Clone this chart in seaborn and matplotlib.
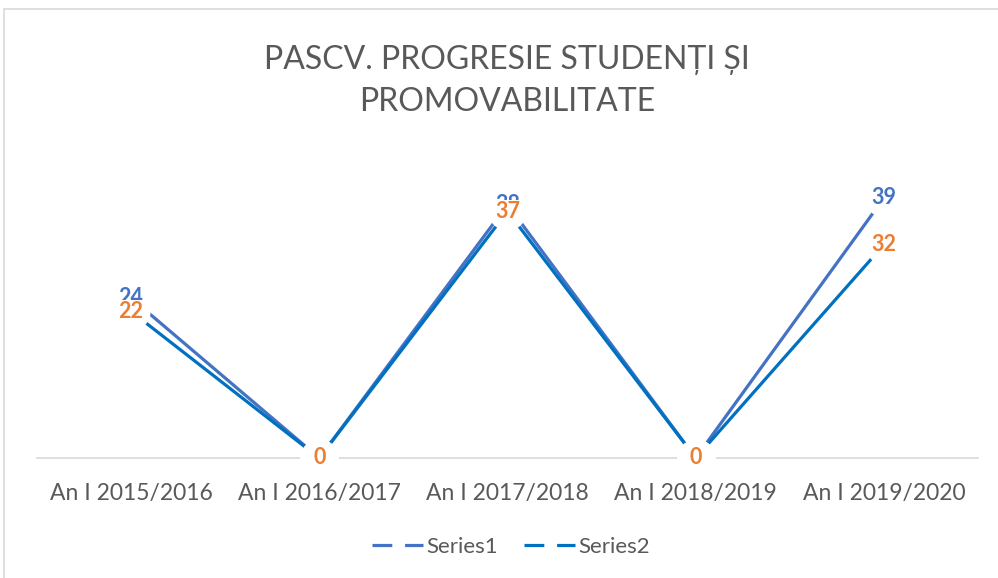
import pandas as pd
import matplotlib.pyplot as plt
import matplotlib.patches as mpatches
from matplotlib.lines import Line2D
import seaborn as sns

# --- data ---
years = ['An I 2015/2016', 'An I 2016/2017', 'An I 2017/2018', 'An I 2018/2019', 'An I 2019/2020']
series1 = [24, 0, 38, 0, 39]
series2 = [22, 0, 37, 0, 32]
series_names = ['Series1', 'Series2']

line_colors = {'Series1': '#4472C4', 'Series2': '#0070C0'}
label_colors = {'Series1': '#4472C4', 'Series2': '#ED7D31'}
grey = '#595959'

df = pd.DataFrame({
    'year': years * 2,
    'x': list(range(len(years))) * 2,
    'value': series1 + series2,
    'series': ['Series1'] * len(years) + ['Series2'] * len(years),
})

sns.set_theme(style='white')
plt.rcParams['font.family'] = ['Lato', 'DejaVu Sans']

fig = plt.figure(figsize=(9.98, 5.78), dpi=100)
ax = fig.add_axes([0.037, 1 - 458 / 578, 0.943, (458 - 158) / 578])

sns.lineplot(data=df, x='x', y='value', hue='series', palette=line_colors,
             linewidth=2.3, ax=ax, legend=False, sort=False, zorder=2)

# white discs under the labels cut the line ends short, like in the original
sns.scatterplot(data=df, x='x', y='value', color='white', s=760, linewidth=0,
                ax=ax, legend=False, zorder=3, clip_on=False)

# data labels centred on the points
for name in series_names:
    sub = df[df['series'] == name]
    for _, r in sub.iterrows():
        ax.text(r['x'], r['value'], f"{r['value']:g}", color=label_colors[name],
                fontsize=15.5, fontweight='bold', ha='center', va='center', zorder=5,
                bbox=dict(facecolor='white', edgecolor='none', pad=0.6))

ax.set_xlim(-0.5, len(years) - 0.5)
ax.set_ylim(0, 45)
ax.set_xticks(range(len(years)))
ax.set_xticklabels(years, color=grey, fontsize=16.5)
ax.tick_params(axis='x', length=0, pad=18)
ax.set_yticks([])
ax.set_xlabel('')
ax.set_ylabel('')
for s in ['top', 'right', 'left']:
    ax.spines[s].set_visible(False)
ax.spines['bottom'].set_color('#D9D9D9')
ax.spines['bottom'].set_linewidth(1.2)
ax.spines['bottom'].set_zorder(1)

fig.text(0.508, 1 - 81 / 578, 'PASCV. PROGRESIE STUDENȚI ȘI\nPROMOVABILITATE',
         ha='center', va='center', color=grey, fontsize=23, linespacing=1.5)

handles = [Line2D([0], [0], color=line_colors[n], linewidth=2.3, linestyle=(0, (6.2, 4)))
           for n in series_names]
leg = fig.legend(handles, series_names, loc='center', bbox_to_anchor=(0.512, 1 - 547 / 578),
                 ncol=2, frameon=False, fontsize=16, handlelength=2.3, handletextpad=0.15,
                 columnspacing=1.2)
for t in leg.get_texts():
    t.set_color(grey)

# chart frame
fig.patches.append(mpatches.Rectangle((4 / 998, -0.05), 1.1, 1 - 9 / 578 + 0.05,
                                      transform=fig.transFigure, fill=False,
                                      edgecolor='#D9D9D9', linewidth=1.2))

fig.savefig('out.png', dpi=100)
